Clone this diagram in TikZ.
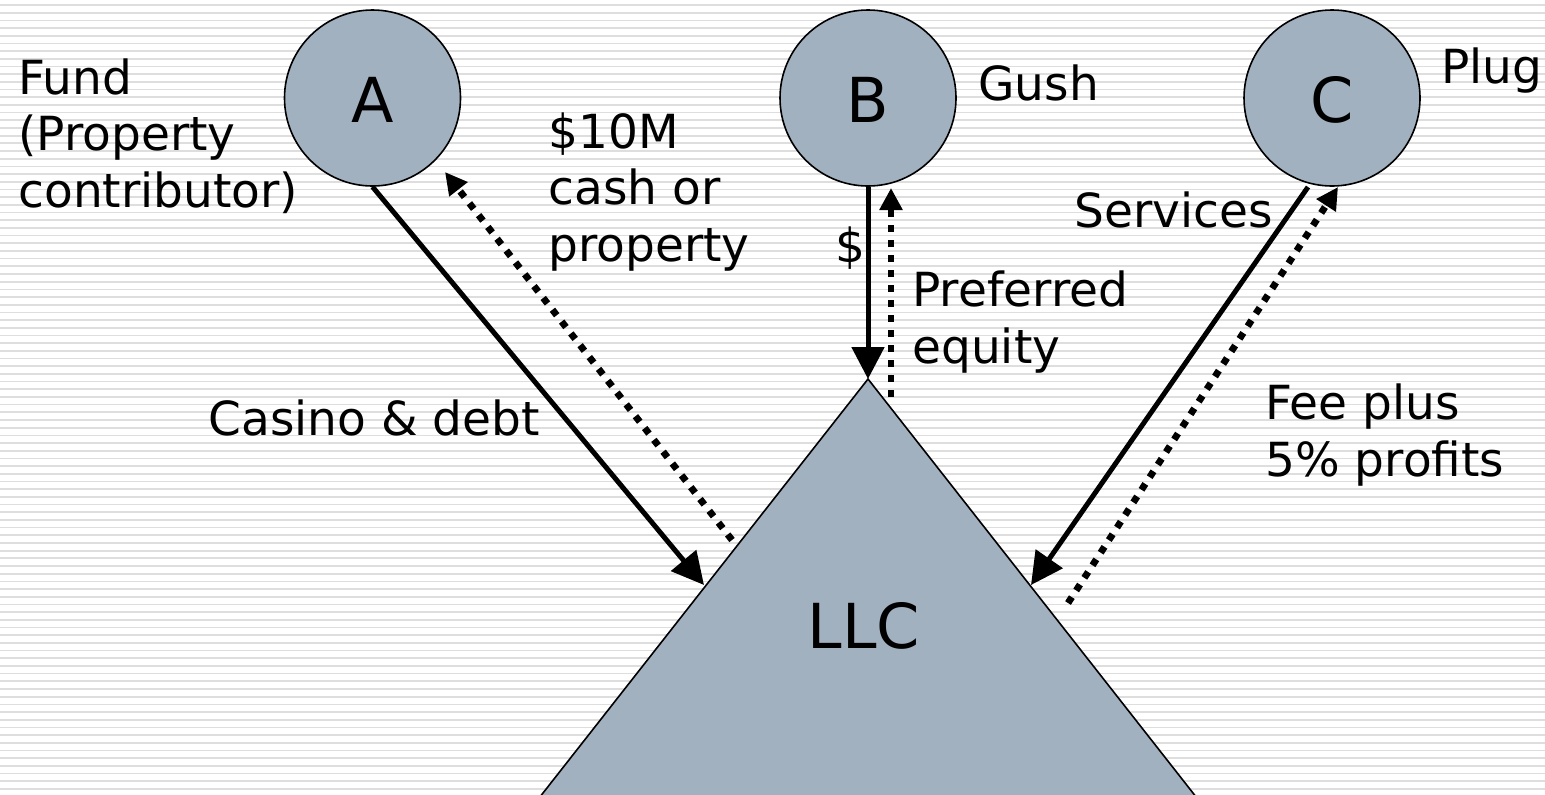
\documentclass[tikz,border=0pt]{standalone}
\usepackage{fontspec}
\setmainfont{DejaVu Sans}
\usetikzlibrary{arrows.meta}

\definecolor{entity}{RGB}{162,177,192}
\definecolor{stripe}{RGB}{222,222,222}

\tikzset{
  party/.style={circle, draw=black, line width=0.8pt, fill=entity,
    minimum size=88pt, inner sep=0pt, font=\fontsize{31}{37}\selectfont,
    text height=24.4pt, text depth=0pt},
  % multi-line labels are anchored at the baseline of their last line
  lbl/.style={anchor=base west, inner sep=0pt, align=left,
    font=\fontsize{23.5}{28.25}\selectfont},
  flow/.style={line width=2.5pt, -{Triangle[length=16pt,width=16pt]}},
  ret/.style={line width=3.4pt, dash pattern=on 3.5pt off 4pt,
    -{Triangle[length=11pt,width=11pt]}},
  bgline/.style={stripe, line width=0.85pt}
}

\begin{document}
\begin{tikzpicture}[x=0.5pt, y=-0.5pt]
  \useasboundingbox (0,0) rectangle (1545,794);

  % striped background
  \fill[white] (0,0) rectangle (1545,794);
  \foreach \i in {0,...,103} {
    \draw[bgline] (0,{5+7.685*\i}) -- (1545,{5+7.685*\i});
  }

  % the LLC triangle, running past the lower edge
  \coordinate (apex) at (868,379);
  \begin{scope}
    \clip (0,0) rectangle (1545,794);
    \draw[fill=entity, line width=0.8pt] (apex) -- (1277,900) -- (459,900) -- cycle;
  \end{scope}
  \node[anchor=base, inner sep=0pt, font=\fontsize{31}{37}\selectfont] (llc) at (864,648) {LLC};

  % the three members
  \node[party] (A) at (372.5,98) {A};
  \node[party] (B) at (868,98) {B};
  \node[party] (C) at (1332,98) {C};

  % arrow end points
  \coordinate (llcA) at (704,585);
  \coordinate (dA1) at (732,540);
  \coordinate (dA2) at (445,172);
  \coordinate (dB1) at (891,397);
  \coordinate (dB2) at (891,188);
  \coordinate (sC) at (1308,187);
  \coordinate (llcC) at (1031,585);
  \coordinate (dC1) at (1068,603);
  \coordinate (dC2) at (1338,187);

  % contributions into the LLC
  \draw[flow] (A.south) -- (llcA);
  \draw[flow] (B.south) -- (apex);
  \draw[flow] (sC) -- (llcC);

  % what each member receives back
  \draw[ret] (dA1) -- (dA2);
  \draw[ret] (dB1) -- (dB2);
  \draw[ret] (dC1) -- (dC2);

  % labels
  \node[lbl] (fund) at (18,207) {Fund\\(Property\\contributor)};
  \node[lbl] (cash) at (548,261) {\$10M\\cash or\\property};
  \node[lbl] (gush) at (978,100) {Gush};
  \node[lbl] (plug) at (1441,83) {Plug};
  \node[lbl] (dollar) at (835,262) {\$};
  \node[lbl] (pref) at (912,363) {Preferred\\equity};
  \node[lbl] (serv) at (1074,227) {Services};
  \node[lbl] (fee) at (1265,476) {Fee plus\\5\% profits};
  \node[lbl] (casino) at (208,435) {Casino \& debt};
\end{tikzpicture}
\end{document}
